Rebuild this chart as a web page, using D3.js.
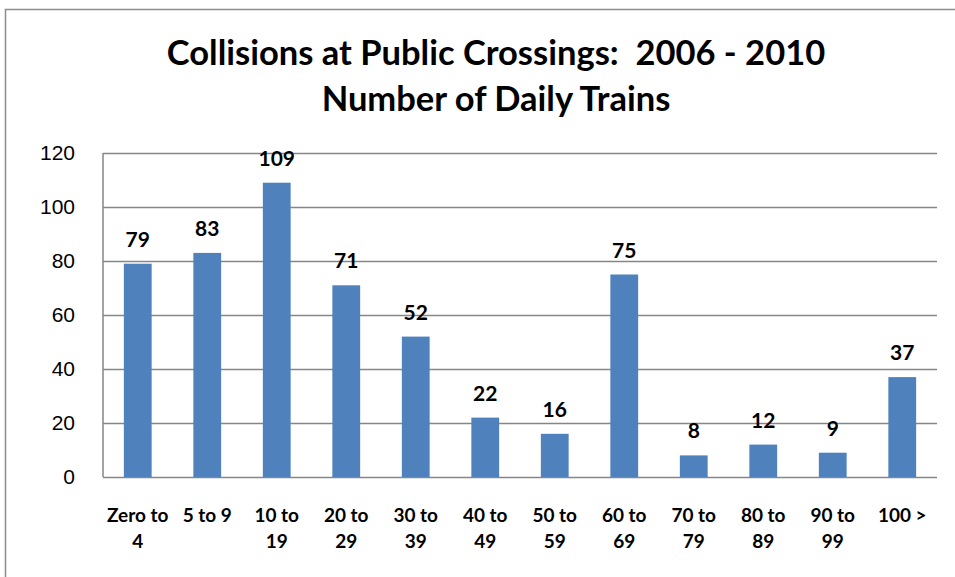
<!DOCTYPE html>
<meta charset="utf-8">
<style>
body { margin: 0; background: #fff; }
svg { font-family: Lato, "Noto Sans", sans-serif; }
.grid line { stroke: #868686; stroke-width: 1.5; }
.grid path { display: none; }
.yaxis path, .yaxis line { display: none; }
.yaxis text { font-size: 21px; fill: #000; }
.bar { fill: #4f81bd; }
.val { font-size: 21px; font-weight: bold; text-anchor: middle; }
.cat { font-size: 19px; font-weight: bold; text-anchor: middle; }
.title { font-size: 34.5px; font-weight: bold; text-anchor: middle; white-space: pre; }
</style>
<body>
<div id="chart"></div>
<script src="https://cdn.jsdelivr.net/npm/d3@7"></script>
<script>

var categories = ["Zero to 4", "5 to 9", "10 to 19", "20 to 29", "30 to 39", "40 to 49",
                  "50 to 59", "60 to 69", "70 to 79", "80 to 89", "90 to 99", "100 >"];
var catLines = [["Zero to", "4"], ["5 to 9"], ["10 to", "19"], ["20 to", "29"], ["30 to", "39"], ["40 to", "49"],
                ["50 to", "59"], ["60 to", "69"], ["70 to", "79"], ["80 to", "89"], ["90 to", "99"], ["100 >"]];
var collisions = [79, 83, 109, 71, 52, 22, 16, 75, 8, 12, 9, 37];
var yTicks = [0, 20, 40, 60, 80, 100, 120];
var titleLines = ["Collisions at Public Crossings:  2006 - 2010", "Number of Daily Trains"];

var width = 955, height = 577;
var margin = {top: 153, left: 103, right: 18, bottom: 100};

var svg = d3.select("#chart").append("svg")
    .attr("width", width)
    .attr("height", height);

// outer chart frame
svg.append("rect")
    .attr("x", 5.5).attr("y", 9.5)
    .attr("width", 960).attr("height", 600)
    .attr("fill", "none")
    .attr("stroke", "#8c8c8c")
    .attr("stroke-width", 1.5);

var x = d3.scaleBand()
    .domain(categories)
    .range([margin.left, width - margin.right])
    .paddingInner(0.6)
    .paddingOuter(0.3);

var y = d3.scaleLinear()
    .domain([0, 120])
    .range([height - margin.bottom, margin.top]);

svg.append("g")
    .attr("class", "grid")
    .attr("transform", "translate(" + margin.left + ",0)")
    .call(d3.axisLeft(y).tickValues(yTicks).tickSize(-(width - margin.right - margin.left)).tickFormat(""));

svg.append("g")
    .attr("class", "yaxis")
    .attr("transform", "translate(" + (margin.left - 28) + ",0)")
    .call(d3.axisLeft(y).tickValues(yTicks).tickSize(0).tickPadding(0));

// vertical axis line
svg.append("line")
    .attr("x1", margin.left).attr("x2", margin.left)
    .attr("y1", y(120)).attr("y2", y(0))
    .attr("stroke", "#868686").attr("stroke-width", 1.5);

svg.selectAll(".bar")
    .data(collisions)
  .enter().append("rect")
    .attr("class", "bar")
    .attr("x", function(d, i) { return x(categories[i]); })
    .attr("y", function(d) { return y(d); })
    .attr("width", x.bandwidth())
    .attr("height", function(d) { return y(0) - y(d); });

svg.selectAll(".val")
    .data(collisions)
  .enter().append("text")
    .attr("class", "val")
    .attr("x", function(d, i) { return x(categories[i]) + x.bandwidth() / 2; })
    .attr("y", function(d) { return y(d) - 17; })
    .text(function(d) { return d; });

var cat = svg.selectAll(".cat")
    .data(catLines)
  .enter().append("text")
    .attr("class", "cat")
    .attr("x", function(d, i) { return x(categories[i]) + x.bandwidth() / 2; })
    .attr("y", 522);

cat.selectAll("tspan")
    .data(function(d) { return d; })
  .enter().append("tspan")
    .attr("x", function() { return d3.select(this.parentNode).attr("x"); })
    .attr("dy", function(d, i) { return i ? 26 : 0; })
    .text(function(d) { return d; });

svg.selectAll(".title")
    .data(titleLines)
  .enter().append("text")
    .attr("class", "title")
    .attr("x", 496)
    .attr("y", function(d, i) { return 65 + i * 46; })
    .text(function(d) { return d; });

</script>
</body>
</html>
